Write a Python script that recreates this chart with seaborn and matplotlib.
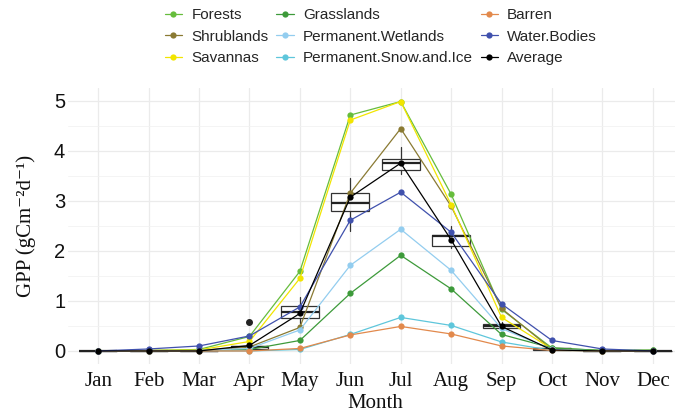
import numpy as np
import matplotlib.pyplot as plt
import pandas as pd
import seaborn as sns
from matplotlib.ticker import MultipleLocator

# monthly GPP per land cover class
months = ['Jan', 'Feb', 'Mar', 'Apr', 'May', 'Jun', 'Jul', 'Aug', 'Sep', 'Oct', 'Nov', 'Dec']
forests = [0, 0.01, 0.03, 0.29, 1.59, 4.71, 4.98, 3.13, 0.83, 0.06, 0.01, 0.02]
shrublands = [0, 0.0, 0.01, 0.08, 0.47, 3.15, 4.44, 2.89, 0.85, 0.03, 0, 0]
savannas = [0, 0.01, 0.02, 0.19, 1.45, 4.61, 4.98, 2.92, 0.67, 0.04, 0, 0]
grasslands = [0, 0, 0.01, 0.03, 0.21, 1.15, 1.91, 1.24, 0.33, 0.06, 0.01, 0.01]
wetlands = [0, 0, 0.01, 0.05, 0.42, 1.71, 2.43, 1.61, 0.45, 0.03, 0, 0]
snow_ice = [0, 0, 0, 0, 0.03, 0.33, 0.67, 0.51, 0.18, 0.01, 0, 0]
barren = [0, 0, 0, 0, 0.05, 0.32, 0.49, 0.34, 0.10, 0.01, 0, 0]
water = [0, 0.04, 0.10, 0.30, 0.88, 2.61, 3.17, 2.37, 0.94, 0.21, 0.04, 0]
average = [0, 0, 0, 0.11, 0.75, 3.07, 3.75, 2.22, 0.49, 0.02, 0, 0]

# boxplot summary per month
box_q1 = [0, 0, 0, 0.03, 0.65, 2.80, 3.62, 2.10, 0.46, 0.01, 0, 0]
box_med = [0, 0, 0, 0.07, 0.77, 2.95, 3.75, 2.29, 0.50, 0.03, 0, 0]
box_q3 = [0, 0, 0, 0.09, 0.90, 3.15, 3.84, 2.32, 0.54, 0.05, 0, 0]
box_lo = [0, 0, 0, 0.0, 0.55, 2.40, 3.53, 2.05, 0.43, 0.0, 0, 0]
box_hi = [0, 0, 0, 0.12, 1.07, 3.45, 4.08, 2.49, 0.57, 0.06, 0, 0]
box_out = [[], [], [], [0.57], [], [], [], [], [], [], [], []]

classes = ['Forests', 'Shrublands', 'Savannas', 'Grasslands', 'Permanent.Wetlands',
           'Permanent.Snow.and.Ice', 'Barren', 'Water.Bodies', 'Average']
colors = ['#66bd3c', '#8a7a33', '#f2e500', '#3d9a3a', '#93cdef',
          '#5ec6db', '#e2894c', '#4051ad', '#000000']
series = [forests, shrublands, savannas, grasslands, wetlands, snow_ice, barren, water, average]

df = pd.DataFrame({'month': np.tile(np.arange(12), len(classes)),
                   'gpp': np.concatenate(series),
                   'cls': np.repeat(classes, 12)})

sns.set_theme(style='whitegrid')
plt.rcParams['font.family'] = ['Liberation Sans', 'DejaVu Sans']
fig = plt.figure(figsize=(6.75, 4.18), dpi=100)
ax = fig.add_axes([68/675, 54.5/418, 615/675, 275.5/418])

# boxes
stats = []
for i in range(12):
    stats.append({'med': box_med[i], 'q1': box_q1[i], 'q3': box_q3[i],
                  'whislo': box_lo[i], 'whishi': box_hi[i], 'fliers': box_out[i]})
ax.bxp(stats, positions=np.arange(12), widths=0.75, showcaps=False, patch_artist=True,
       boxprops=dict(facecolor='none', edgecolor='#333333', linewidth=0.9),
       whiskerprops=dict(color='#333333', linewidth=0.9),
       medianprops=dict(color='#222222', linewidth=1.6),
       flierprops=dict(marker='o', markerfacecolor='#222222', markeredgecolor='#222222', markersize=4),
       manage_ticks=False, zorder=2)

sns.lineplot(data=df, x='month', y='gpp', hue='cls', hue_order=classes,
             palette=dict(zip(classes, colors)), marker='o', markersize=4.5,
             markeredgewidth=0, linewidth=0.9, ax=ax, zorder=3, sort=False)

ax.set_xlim(-0.6, 11.6)
ax.set_ylim(-0.25, 5.25)
ax.set_xticks(np.arange(12))
ax.set_xticklabels(months, family='Liberation Serif', fontsize=15, color='#111111')
ax.yaxis.set_major_locator(MultipleLocator(1))
ax.yaxis.set_minor_locator(MultipleLocator(0.5))
ax.tick_params(axis='y', labelsize=14.5, colors='#111111', pad=2, length=0)
ax.tick_params(axis='x', pad=6, length=0)
ax.grid(which='major', color='#ebebeb', linewidth=0.9)
ax.grid(which='minor', axis='y', color='#f2f2f2', linewidth=0.6)
for s in ax.spines.values():
    s.set_visible(False)
ax.set_facecolor('white')

ax.set_xlabel('Month', family='Liberation Serif', fontsize=15, labelpad=2, color='#111111')
ax.set_ylabel('GPP (gCm\u207b\u00b2d\u207b\u00b9)', family=['Liberation Serif', 'DejaVu Serif'],
              fontsize=15, labelpad=13, color='#111111')

sns.move_legend(ax, 'upper left', bbox_to_anchor=(157/675, 1 - 0.5/418),
                bbox_transform=fig.transFigure, ncol=3, frameon=False, title=None,
                fontsize=11, borderpad=0, columnspacing=0.5, handlelength=1.15,
                handletextpad=0.6, labelspacing=0.5)

plt.savefig('out.png', dpi=100)
